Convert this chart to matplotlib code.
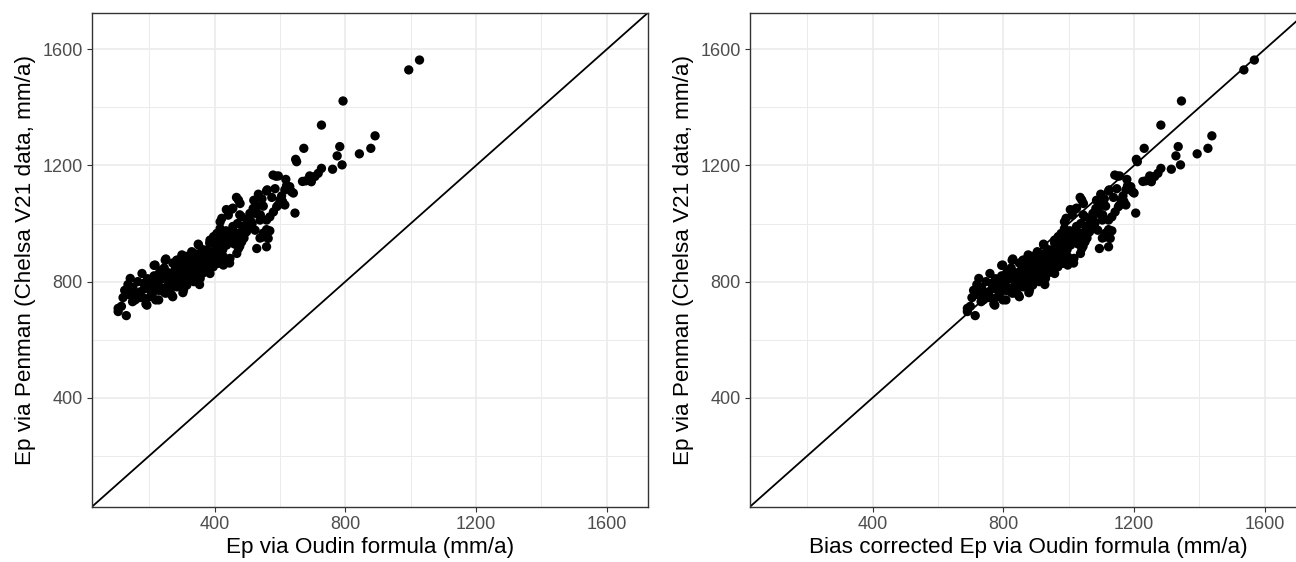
import matplotlib.pyplot as plt

plt.rcParams['font.family'] = ['Liberation Sans', 'DejaVu Sans']

# Ep via Oudin formula (mm/a)
ep_oudin = [
    105, 105, 130, 136, 149, 115, 142, 142, 157, 178,
    183, 173, 193, 203, 213, 218, 229, 239, 249, 254,
    269, 280, 285, 295, 305, 315, 325, 336, 346, 351,
    361, 371, 386, 397, 402, 412, 417, 224, 259, 320,
    356, 203, 244, 285, 315, 366, 381, 300, 330, 190,
    220, 272, 303, 354,
    588, 534, 559, 473, 478, 518, 549, 590, 508, 529,
    569, 452, 442, 422, 417, 483, 539, 559, 508, 524,
    498, 569, 549, 564, 529, 559, 478, 463, 447, 473,
    483, 407, 412, 432, 437, 386, 350, 376, 396, 427,
    447, 366, 325, 335, 305, 284, 427, 396, 468,
    727, 673, 648, 651, 783, 775, 761, 727, 717, 707,
    691, 679, 696, 579, 595, 618, 630, 635, 615, 605,
    600, 595, 615, 646, 561, 641, 467, 523,
    994, 1027, 793, 891, 878, 843, 790, 669, 608, 456,
    436, 477, 523, 559, 549, 539, 503, 493, 467, 456,
    446, 477, 385, 364, 354, 313, 292, 272, 251, 215,
    231, 246, 426, 446, 405, 364, 313, 292,
    120, 125, 150, 160, 165, 170, 185, 195, 205, 210,
    215, 225, 235, 240, 250, 255, 260, 265, 270, 275,
    280, 290, 295, 300, 310, 318, 322, 330, 340, 345,
    350, 360, 365, 370, 375, 380, 390, 395, 400, 410,
    420, 425, 430, 440, 450, 460, 490, 510, 540, 580,
    520,
    330, 345, 360, 380, 400, 415, 435, 455, 470, 485,
    500, 515, 530, 545, 575, 585, 620,
    180, 200, 230, 260, 285, 300, 310, 340, 150, 135,
]

# Bias corrected Ep via Oudin formula (mm/a)
ep_oudin_corrected = [
    690, 690, 714, 719, 732, 699, 725, 725, 739, 759,
    764, 755, 774, 783, 793, 798, 808, 818, 827, 832,
    846, 857, 861, 871, 880, 890, 899, 910, 919, 924,
    934, 943, 957, 968, 973, 982, 987, 803, 837, 895,
    929, 783, 822, 861, 890, 938, 953, 876, 904, 771,
    799, 849, 878, 927,
    1150, 1098, 1122, 1040, 1045, 1083, 1113, 1152, 1074, 1094,
    1132, 1020, 1011, 992, 987, 1050, 1103, 1122, 1074, 1089,
    1064, 1132, 1113, 1127, 1094, 1122, 1045, 1031, 1016, 1040,
    1050, 977, 982, 1001, 1006, 957, 923, 948, 967, 997,
    1016, 938, 899, 909, 880, 860, 997, 967, 1036,
    1282, 1231, 1207, 1210, 1335, 1328, 1314, 1282, 1273, 1263,
    1248, 1236, 1253, 1141, 1156, 1178, 1190, 1195, 1175, 1166,
    1161, 1156, 1175, 1205, 1124, 1200, 1035, 1088,
    1536, 1568, 1345, 1438, 1426, 1393, 1342, 1227, 1169, 1024,
    1005, 1044, 1088, 1122, 1113, 1103, 1069, 1059, 1035, 1024,
    1015, 1044, 957, 937, 927, 888, 868, 849, 829, 795,
    810, 824, 996, 1015, 976, 937, 888, 868,
    704, 709, 733, 742, 747, 752, 766, 776, 785, 790,
    795, 804, 814, 818, 828, 833, 838, 842, 847, 852,
    857, 866, 871, 876, 885, 893, 897, 904, 914, 918,
    923, 933, 937, 942, 947, 952, 961, 966, 971, 980,
    990, 995, 999, 1009, 1018, 1028, 1056, 1076, 1104, 1142,
    1085,
    904, 918, 933, 952, 971, 985, 1004, 1023, 1037, 1052,
    1066, 1080, 1095, 1109, 1137, 1147, 1180,
    761, 780, 809, 838, 861, 876, 885, 914, 733, 719,
]

# Ep via Penman (Chelsa V21 data, mm/a)
ep_penman = [
    708, 697, 683, 757, 731, 715, 811, 754, 737, 828,
    794, 765, 719, 805, 765, 857, 737, 840, 874, 782,
    754, 828, 805, 851, 771, 886, 840, 800, 874, 926,
    840, 897, 828, 955, 909, 863, 983, 788, 817, 817,
    811, 748, 765, 782, 788, 863, 874, 892, 903, 723,
    737, 748, 762, 790,
    1163, 1101, 1112, 1081, 1069, 1052, 1060, 1058, 1035, 1035,
    1023, 1049, 1029, 1018, 1006, 1023, 1012, 1012, 989, 977,
    972, 975, 954, 949, 914, 920, 966, 954, 972, 914,
    937, 966, 943, 954, 926, 943, 929, 909, 903, 886,
    880, 886, 874, 897, 863, 874, 857, 851, 897,
    1339, 1259, 1221, 1213, 1265, 1233, 1187, 1190, 1173, 1162,
    1164, 1147, 1144, 1167, 1164, 1152, 1127, 1110, 1116, 1095,
    1081, 1064, 1064, 1036, 1116, 1105, 1090, 1053,
    1529, 1563, 1422, 1302, 1259, 1240, 1202, 1145, 1076, 1053,
    1048, 1030, 1036, 979, 967, 950, 990, 967, 967, 990,
    945, 922, 933, 910, 887, 887, 876, 864, 878, 856,
    830, 847, 864, 864, 880, 853, 841, 818,
    745, 770, 780, 760, 800, 745, 775, 810, 770, 790,
    820, 800, 780, 810, 760, 830, 800, 775, 815, 790,
    845, 810, 830, 800, 820, 860, 805, 845, 860, 820,
    850, 865, 830, 875, 850, 905, 890, 860, 880, 900,
    940, 910, 960, 935, 950, 930, 950, 1010, 1030, 1040,
    1080,
    870, 895, 900, 880, 930, 925, 975, 965, 1000, 990,
    1010, 1000, 1060, 1085, 1090, 1120, 1130,
    745, 780, 770, 830, 840, 860, 800, 830, 750, 790,
]

x_labels = ['Ep via Oudin formula (mm/a)',
            'Bias corrected Ep via Oudin formula (mm/a)']
y_label = 'Ep via Penman (Chelsa V21 data, mm/a)'
major_ticks = [400, 800, 1200, 1600]
minor_ticks = [200, 600, 1000, 1400]
lims = (25, 1726)

fig = plt.figure(figsize=(12.96, 5.62), dpi=100)
ax_left = fig.add_axes([92 / 1296, 55.3 / 562, 556 / 1296, 494 / 562])
ax_right = fig.add_axes([750 / 1296, 55.3 / 562, 556 / 1296, 494 / 562])

for ax, xs, xlab in [(ax_left, ep_oudin, x_labels[0]),
                     (ax_right, ep_oudin_corrected, x_labels[1])]:
    ax.set_xlim(lims)
    ax.set_ylim(lims)
    ax.set_xticks(major_ticks)
    ax.set_yticks(major_ticks)
    ax.set_xticks(minor_ticks, minor=True)
    ax.set_yticks(minor_ticks, minor=True)
    ax.grid(which='major', color='#EBEBEB', lw=1.2)
    ax.grid(which='minor', color='#EBEBEB', lw=0.7)
    ax.set_axisbelow(True)
    ax.tick_params(which='major', length=3.6, width=0.8, color='#333333',
                   labelsize=13, labelcolor='#4D4D4D', pad=3)
    ax.tick_params(which='minor', length=0)
    for s in ax.spines.values():
        s.set_color('#333333')
        s.set_linewidth(1.0)
    ax.axline((0, 0), slope=1, color='black', lw=1.3, zorder=2)
    ax.scatter(xs, ep_penman, s=45, color='black', edgecolors='none', zorder=3)
    ax.set_xlabel(xlab, fontsize=16.2, labelpad=3)
    ax.set_ylabel(y_label, fontsize=16.2, labelpad=5)

fig.savefig('out.png', dpi=100)
